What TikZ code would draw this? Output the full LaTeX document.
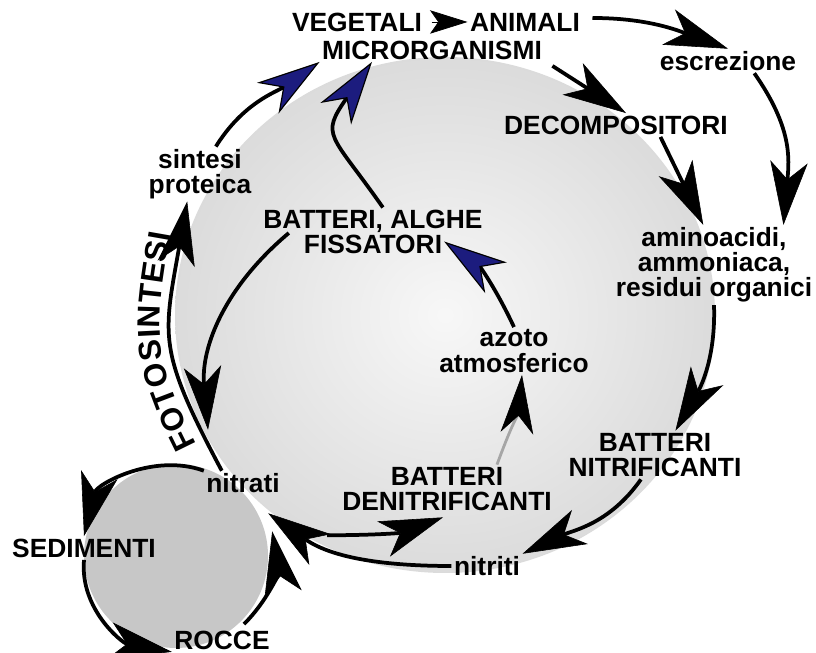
\documentclass[tikz,border=0pt]{standalone}
\usepackage{fontspec}
\setmainfont{Liberation Sans}
\usetikzlibrary{arrows.meta, decorations.text}
\definecolor{tipblue}{HTML}{1C1C7E}

\begin{document}
\begin{tikzpicture}[
  x=0.03cm, y=0.03cm,
  lbl/.style={font=\fontsize{22.5}{21.5}\selectfont\bfseries, align=center, inner sep=2pt},
  arrow/.style={line width=3.2pt, -{Stealth[length=54pt, width=32pt, inset=15pt, line width'=0.5pt]}},
  bluearrow/.style={line width=3.2pt, -{Stealth[length=54pt, width=32pt, inset=16pt, line width'=1pt, fill=tipblue]}},
  grayarrow/.style={line width=2.4pt, draw=black!35, -{Stealth[length=50pt, width=28pt, inset=15pt, line width'=0.5pt, color=black]}},
  headonly/.style={line width=0.6pt, shorten <=6pt, -{Stealth[length=32pt, width=20pt, inset=7pt]}}
]
  \useasboundingbox (0,0) rectangle (816,653);
  \shade[inner color=black!3, outer color=black!14] (445,338) ellipse [x radius=270, y radius=258];
  \fill[black!22] (176,97) circle [radius=92];

  \node[lbl] (veg) at (357,631) {VEGETALI};
  \node[lbl] (ani) at (525,631) {ANIMALI};
  \node[lbl] (micro) at (432,603) {MICRORGANISMI};
  \node[lbl] (escr) at (728,592) {escrezione};
  \node[lbl] (decomp) at (616,528) {DECOMPOSITORI};
  \node[lbl] (amino) at (714,388) {aminoacidi,\\ammoniaca,\\residui organici};
  \node[lbl] (nitrif) at (655,198) {BATTERI\\NITRIFICANTI};
  \node[lbl] (nitriti) at (487,87) {nitriti};
  \node[lbl] (denitr) at (447,164) {BATTERI\\DENITRIFICANTI};
  \node[lbl] (azoto) at (514,302) {azoto\\atmosferico};
  \node[lbl] (fiss) at (373,421) {BATTERI, ALGHE\\FISSATORI};
  \node[lbl] (sintesi) at (200,479) {sintesi\\proteica};
  \node[lbl] (nitrati) at (243,170) {nitrati};
  \node[lbl] (sedim) at (84,105) {SEDIMENTI};
  \node[lbl] (rocce) at (222,13) {ROCCE};

  \draw[headonly] (veg) -- (ani);
  \draw[arrow] ([shift={(10,4)}]ani.east) to[out=0, in=160] (escr.north);
  \draw[arrow] ([shift={(8,-4)}]micro.south east) -- ([shift={(10,0)}]decomp.north);
  \draw[arrow] (escr.-25) to[out=-55, in=85, looseness=1.1] (amino.30);
  \draw[arrow] (decomp.-15) -- (amino.105);
  \draw[arrow] (amino.south) to[out=-88, in=60] (nitrif.50);
  \draw[arrow] (nitrif.-120) to[out=-125, in=25] (nitriti.north east);
  \draw[arrow] (nitriti.west) to[out=180, in=-35] ([shift={(-14,-18)}]nitrati.south east);
  \draw[arrow] ([shift={(45,-40)}]nitrati.south east) to[out=0, in=200] ([shift={(-4,-4)}]denitr.south);
  \draw[grayarrow] ([shift={(50,0)}]denitr.north) to[out=70, in=-95] ([shift={(8,0)}]azoto.south);
  \draw[bluearrow] (azoto.north) to[out=115, in=-35] ([shift={(-41,15)}]fiss.south east);
  \draw[bluearrow] (fiss.68) to[out=125, in=-125, looseness=1.6] ([shift={(-60,0)}]micro.south);
  \draw[bluearrow] (sintesi.60) to[out=58, in=-145] (micro.south west);
  \draw[arrow] ([shift={(28,-1)}]fiss.west) to[out=-140, in=95] ([shift={(-35,41)}]nitrati.north);
  \draw[arrow] (nitrati.150) to[out=118, in=-100, looseness=1.3] (sintesi.-115);
  \path[decorate, decoration={text along path, text align=center, raise=9pt,
      text={|\fontsize{27}{27}\selectfont\bfseries|FOTOSINTESI}}]
    (nitrati.150) to[out=118, in=-100, looseness=1.3] (sintesi.-115);
  \draw[arrow] (nitrati.north west) to[out=160, in=76] (sedim.north);
  \draw[arrow] (sedim.south) to[out=-95, in=170] (rocce.south west);
  \draw[arrow] ([shift={(22,4)}]rocce.north) to[out=45, in=-80] ([shift={(-10,-36)}]nitrati.south east);
\end{tikzpicture}
\end{document}
